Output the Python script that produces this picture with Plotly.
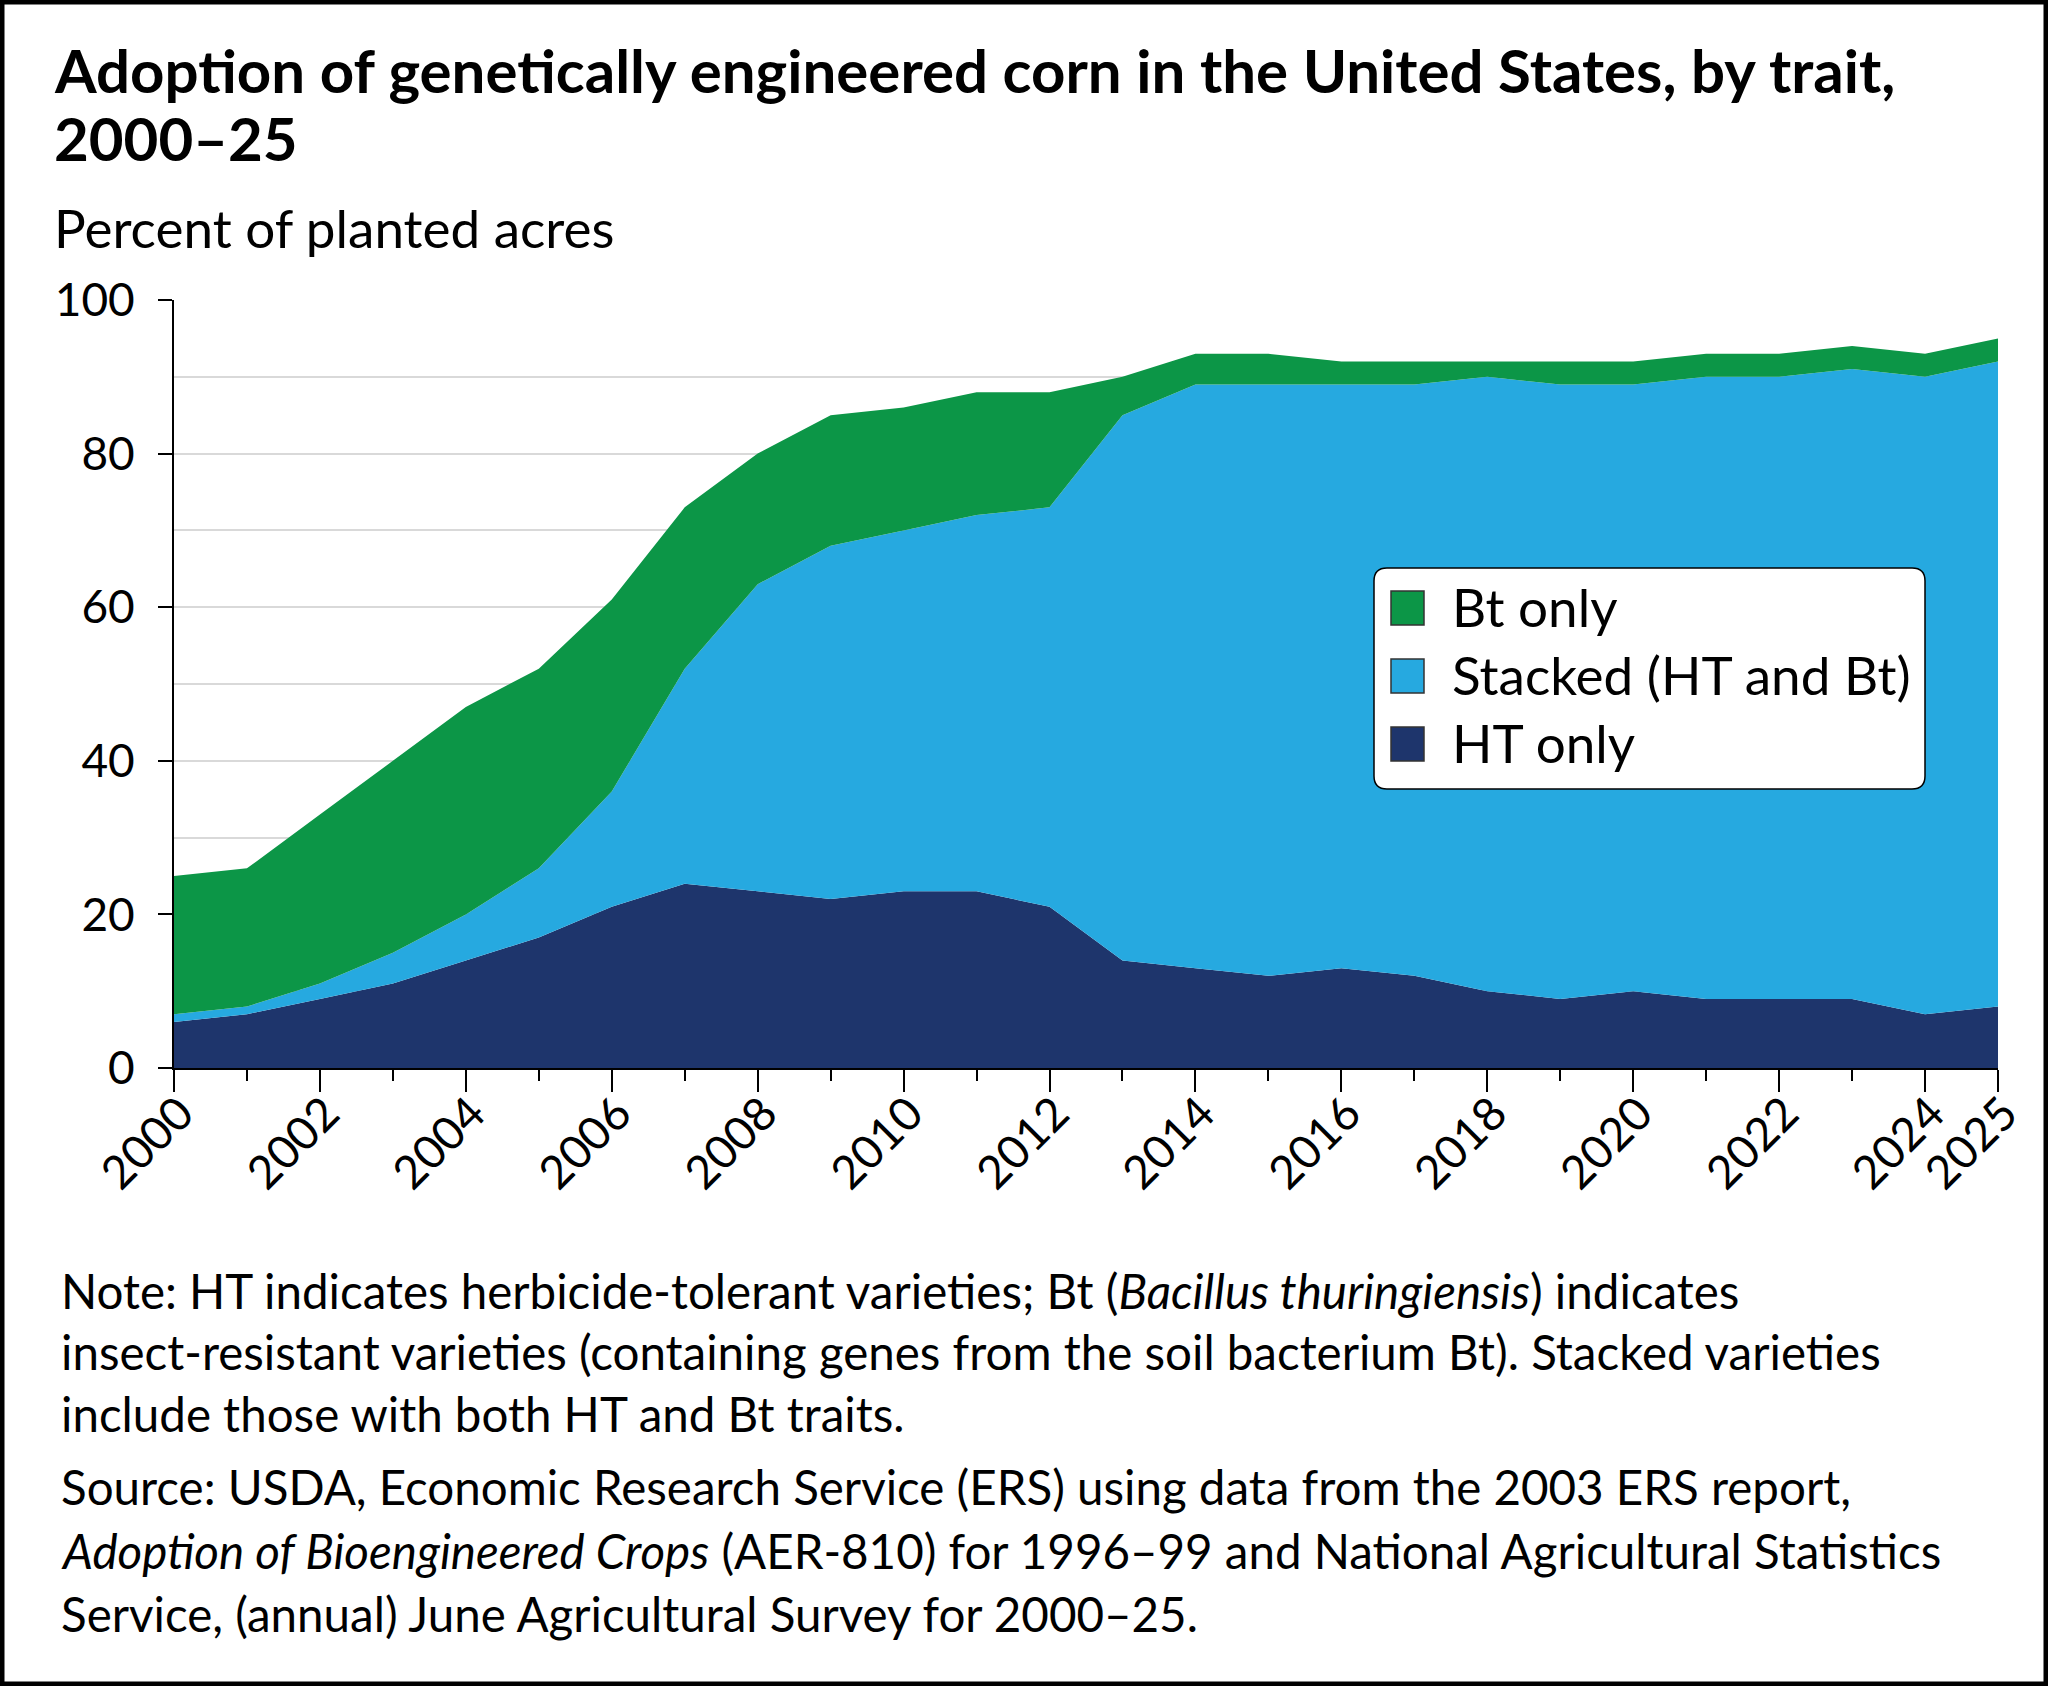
import plotly.graph_objects as go

# data (percent of planted acres)
years = list(range(2000, 2026))
ht_only = [6, 7, 9, 11, 14, 17, 21, 24, 23, 22, 23, 23, 21, 14, 13, 12, 13, 12, 10, 9, 10, 9, 9, 9, 7, 8]
stacked = [1, 1, 2, 4, 6, 9, 15, 28, 40, 46, 47, 49, 52, 71, 76, 77, 76, 77, 80, 80, 79, 81, 81, 82, 83, 84]
bt_only = [18, 18, 22, 25, 27, 26, 25, 21, 17, 17, 16, 16, 15, 5, 4, 4, 3, 3, 2, 3, 3, 3, 3, 3, 3, 3]

x_tick_vals = list(range(2000, 2025, 2)) + [2025]
x_tick_text = [str(v) for v in x_tick_vals]
x_minor_vals = list(range(2001, 2024, 2))

series_names = ["HT only", "Stacked (HT and Bt)", "Bt only"]
series_colors = ["#1e356c", "#26a9e0", "#0c9647"]

W, H = 2048, 1686
L, R, T, B = 174, 50, 300, 618
PW = W - L - R
PH = H - T - B
FONT = "Lato"


def px(X):
    return (X - L) / PW


def py(Y):
    return (T + PH - Y) / PH


fig = go.Figure()
for name, vals, col in zip(series_names, [ht_only, stacked, bt_only], series_colors):
    fig.add_trace(go.Scatter(x=years, y=vals, name=name, stackgroup="one", mode="none",
                             fillcolor=col, line=dict(width=0), showlegend=False))

fig.update_xaxes(range=[2000, 2025], tickmode="array", tickvals=x_tick_vals, ticktext=x_tick_text,
                 tickangle=-45, ticks="outside", ticklen=22, tickwidth=2, tickcolor="black",
                 showline=True, linecolor="black", linewidth=2, showgrid=False, zeroline=False,
                 ticklabelstandoff=-24, ticklabelshift=6,
                 tickfont=dict(family=FONT, size=46, color="black"),
                 minor=dict(tickvals=x_minor_vals, ticks="outside", ticklen=11, tickwidth=2,
                            tickcolor="black", showgrid=False))
fig.update_yaxes(range=[0, 100], dtick=20, ticks="outside", ticklen=14, tickwidth=2, tickcolor="black",
                 showline=True, linecolor="black", linewidth=2, showgrid=True, gridcolor="#d9d9d9",
                 gridwidth=2, zeroline=False, ticklabelstandoff=14,
                 tickfont=dict(family=FONT, size=46, color="black"),
                 minor=dict(dtick=10, showgrid=True, gridcolor="#d9d9d9", gridwidth=2))

annots = []


def text_line(txt, X, baseline, size, bold=False):
    annots.append(dict(text=("<b>%s</b>" % txt) if bold else txt, xref="paper", yref="paper",
                       x=px(X), y=py(baseline + 0.24 * size), xanchor="left", yanchor="bottom",
                       showarrow=False, font=dict(family=FONT, size=size, color="black")))


text_line("Adoption of genetically engineered corn in the United States, by trait,", 52, 94, 60, bold=True)
text_line("2000–25", 52, 162, 60, bold=True)
text_line("Percent of planted acres", 52, 248, 53)

notes = [
    ("Note: HT indicates herbicide-tolerant varieties; Bt (<i>Bacillus thuringiensis</i>) indicates", 1310),
    ("insect-resistant varieties (containing genes from the soil bacterium Bt). Stacked varieties", 1371),
    ("include those with both HT and Bt traits.", 1433),
    ("Source: USDA, Economic Research Service (ERS) using data from the 2003 ERS report,", 1506),
    ("<i>Adoption of Bioengineered Crops</i> (AER-810) for 1996–99 and National Agricultural Statistics", 1570),
    ("Service, (annual) June Agricultural Survey for 2000–25.", 1633),
]
for txt, yb in notes:
    text_line(txt, 59, yb, 47.5)

# legend drawn by hand: rounded box, square swatches, labels
shapes = []
lw, lh, r = 551, 221, 13
hw, hh = lw / 2, lh / 2
path = ("M %f,%f L %f,%f Q %f,%f %f,%f L %f,%f Q %f,%f %f,%f L %f,%f Q %f,%f %f,%f L %f,%f Q %f,%f %f,%f Z" % (
    -hw + r, -hh, hw - r, -hh, hw, -hh, hw, -hh + r, hw, hh - r, hw, hh, hw - r, hh,
    -hw + r, hh, -hw, hh, -hw, hh - r, -hw, -hh + r, -hw, -hh, -hw + r, -hh))
shapes.append(dict(type="path", path=path, xref="paper", yref="paper", xsizemode="pixel",
                   ysizemode="pixel", xanchor=px(1374 + hw), yanchor=py(568 + hh),
                   fillcolor="white", line=dict(color="black", width=1.5), layer="above"))
leg_rows = [(2, 608), (1, 676), (0, 744)]
for idx, cy in leg_rows:
    shapes.append(dict(type="rect", xref="paper", yref="paper", x0=px(1391), x1=px(1424),
                       y0=py(cy + 17), y1=py(cy - 17), fillcolor=series_colors[idx],
                       line=dict(color="#333333", width=1.5), layer="above"))
    text_line(series_names[idx], 1450, cy + 19, 53)

# outer border
shapes.append(dict(type="rect", xref="paper", yref="paper", x0=px(0), x1=px(W), y0=py(H), y1=py(0),
                   line=dict(color="black", width=9), fillcolor="rgba(0,0,0,0)", layer="above"))

fig.update_layout(width=W, height=H, margin=dict(l=L, r=R, t=T, b=B),
                  paper_bgcolor="white", plot_bgcolor="white", showlegend=False,
                  annotations=annots, shapes=shapes)

fig.write_html("out.html", config={"displayModeBar": False},
               post_script="document.body.style.margin='0';")
